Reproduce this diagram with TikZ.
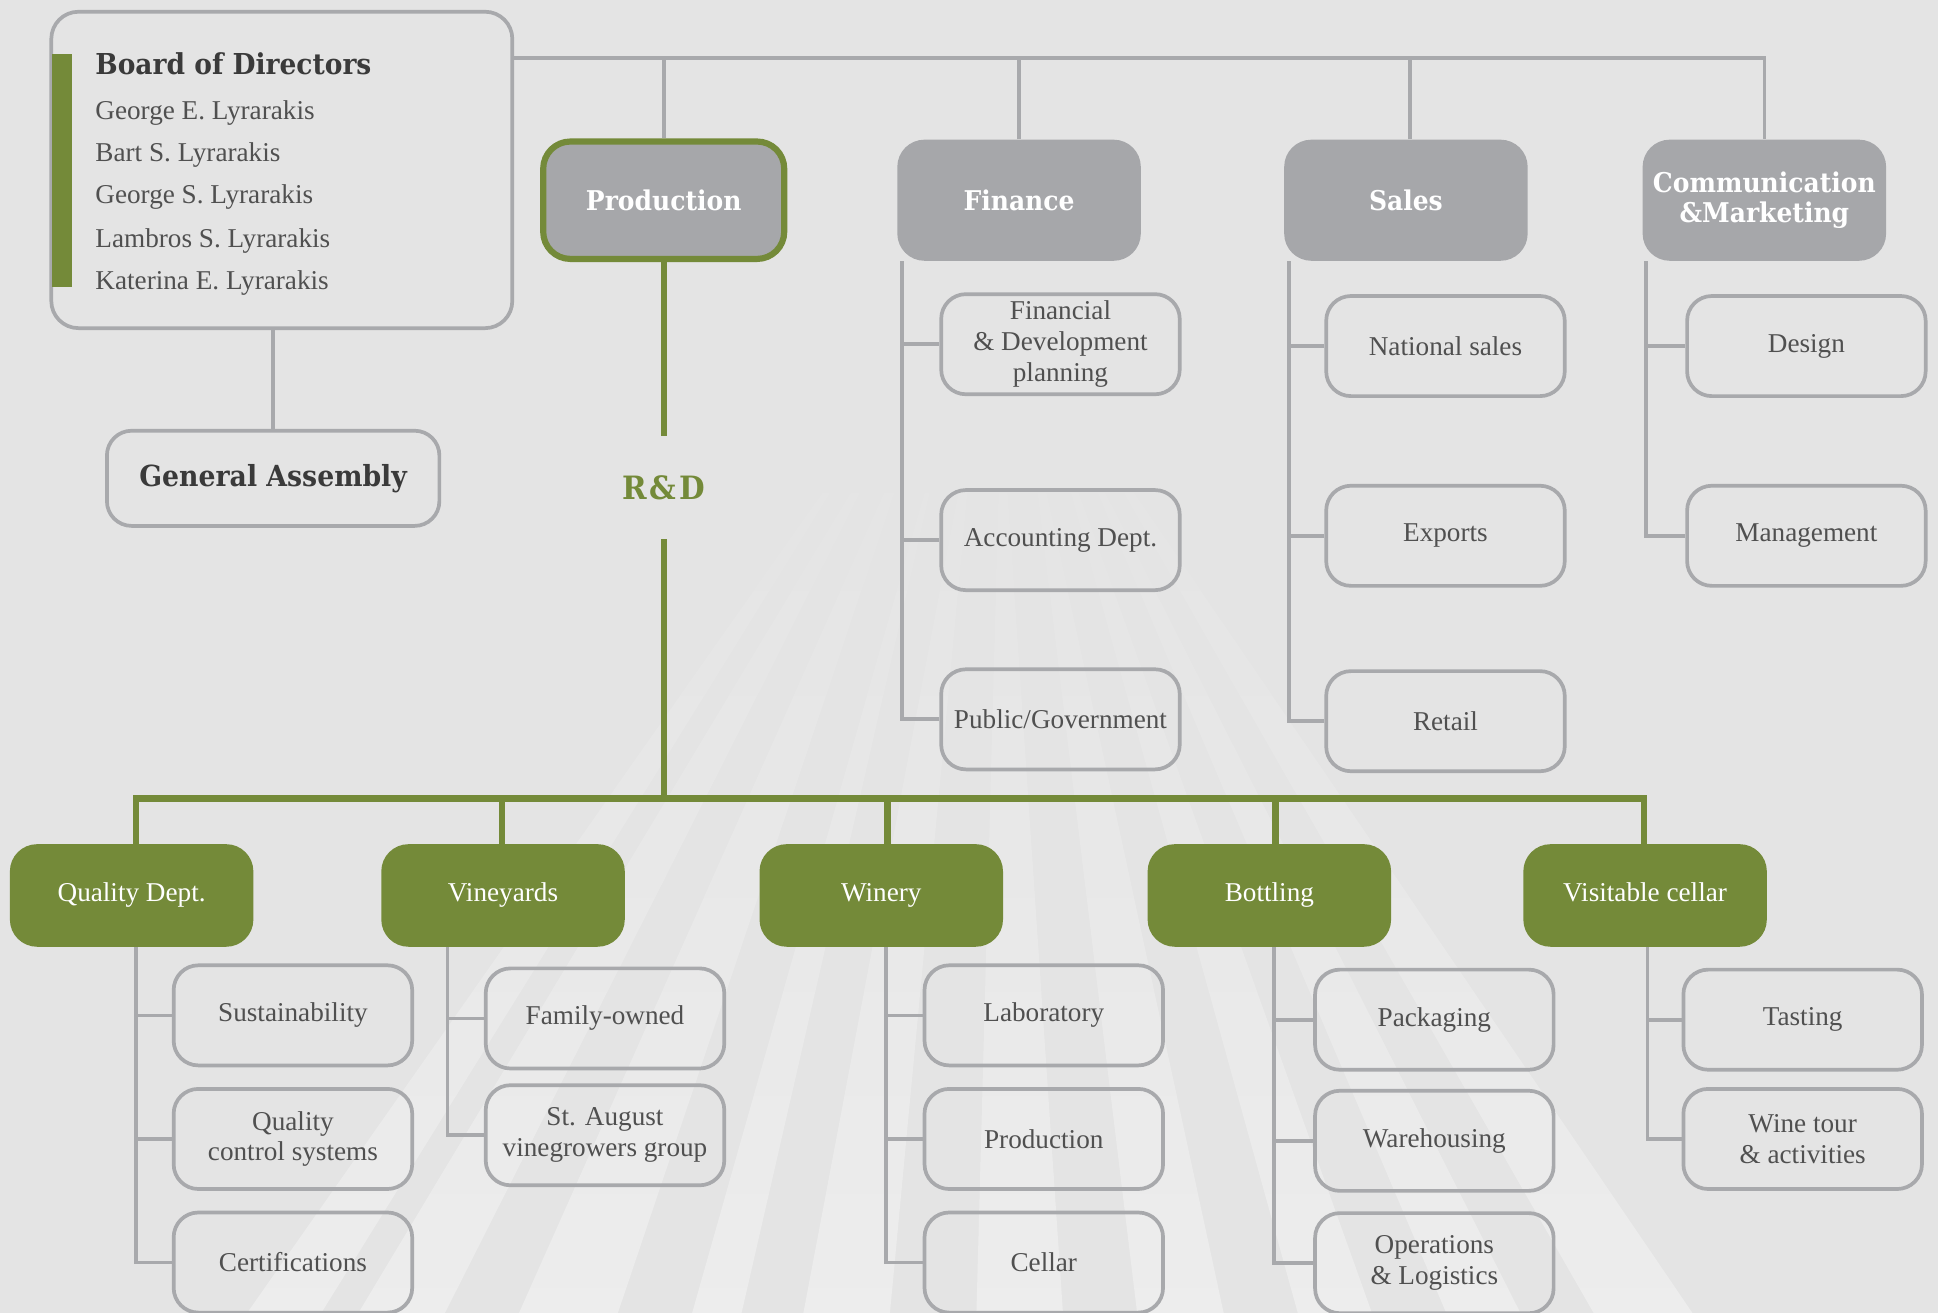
\documentclass[tikz,border=0pt]{standalone}
\usepackage{fontspec}
\setmainfont{Liberation Serif}
\newfontfamily\hf[FakeStretch=0.92]{DejaVu Serif}
\usetikzlibrary{calc,fadings}
\definecolor{bg}{HTML}{E4E4E4}
\definecolor{lgray}{HTML}{A8A9AC}
\definecolor{hgray}{HTML}{A6A7AA}
\definecolor{olive}{HTML}{748A39}
\definecolor{dtext}{HTML}{3A3A3A}
\definecolor{btext}{HTML}{505050}
\begin{document}
\begin{tikzpicture}[x=1pt,y=-1pt,
  gline/.style={draw=lgray,line width=3pt},
  grline/.style={draw=olive,line width=5pt},
  ray/.style={fill=white,opacity=0.34,path fading=north},
  cbox/.style={draw=lgray,line width=3pt,rounded corners=20pt,minimum width=193pt,minimum height=81pt,inner sep=0pt,align=center,text=btext,font=\fontsize{22}{25}\selectfont},
  hbox/.style={fill=hgray,rounded corners=22pt,minimum width=197pt,minimum height=98pt,inner sep=0pt,align=center,text=white,font=\hf\bfseries\fontsize{22}{25}\selectfont},
  gbox/.style={fill=olive,rounded corners=22pt,minimum width=197pt,minimum height=83pt,inner sep=0pt,text height=15pt,text depth=5pt,text=white,font=\fontsize{22}{25}\selectfont},
  person/.style={anchor=base west,inner sep=0pt,text=btext,font=\fontsize{22}{25}\selectfont}
]
\fill[bg] (0,0) rectangle (1568,1062);
\useasboundingbox (0,0) rectangle (1568,1062);
\clip (0,0) rectangle (1568,1062);
% light rays
\foreach \p/\a/\b in {720/200/260,735/290/360,750/420/500,770/560/600,790/650/720,810/790/860,830/920/990,845/1050/1110,855/1170/1230,865/1290/1370}
  \fill[ray] (\p,320) -- (\a,1062) -- (\b,1062) -- cycle;

% board
\node[draw=lgray,line width=3pt,rounded corners=22pt,minimum width=373pt,minimum height=256pt,inner sep=0pt] (board) at (228,137.5) {};
\fill[olive] (42,44) rectangle (58,232);
\node[anchor=base west,inner sep=0pt,text=dtext,font=\hf\bfseries\fontsize{23.3}{24}\selectfont] (bt) at (77,60) {Board of Directors};
\node[person] (n1) at (77,97) {George E. Lyrarakis};
\node[person] (n2) at (77,131) {Bart S. Lyrarakis};
\node[person] (n3) at (77,165) {George S. Lyrarakis};
\node[person] (n4) at (77,200) {Lambros S. Lyrarakis};
\node[person] (n5) at (77,234) {Katerina E. Lyrarakis};

\node[draw=lgray,line width=3pt,rounded corners=20pt,minimum width=269pt,minimum height=77pt,inner sep=0pt,text=dtext,font=\hf\bfseries\fontsize{23.5}{24}\selectfont] (ga) at (221,387) {General Assembly};

% top level
\node[hbox,draw=olive,line width=5pt,minimum width=195pt,minimum height=95pt] (prod) at (537,162) {Production};
\node[hbox] (fin) at (824.5,162) {Finance};
\node[hbox] (sal) at (1137.5,162) {Sales};
\node[hbox] (com) at (1427.5,162) {Communication\\[-1pt]\&Marketing};

% finance children
\node[cbox] (fdp) at (858,278.5) {Financial\\\& Development\\planning};
\node[cbox] (acc) at (858,437) {Accounting Dept.};
\node[cbox] (pub) at (858,582) {Public/Government};
% sales children
\node[cbox] (nat) at (1169.5,280) {National sales};
\node[cbox] (exp) at (1169.5,433.5) {Exports};
\node[cbox] (ret) at (1169.5,583.5) {Retail};
% communication children
\node[cbox] (des) at (1461.5,280) {Design};
\node[cbox] (man) at (1461.5,433.5) {Management};

% R&D
\node[inner sep=0pt,minimum height=83pt,text=olive,font=\hf\bfseries\fontsize{26}{26}\selectfont] (rd) at (537,394.5) {R\kern2pt\&\kern2pt D};
\coordinate (gb) at (537,646);

% production units
\node[gbox] (qd) at (106.5,724.5) {Quality Dept.};
\node[gbox] (vin) at (407,724.5) {Vineyards};
\node[gbox] (win) at (713,724.5) {Winery};
\node[gbox] (bot) at (1027,724.5) {Bottling};
\node[gbox] (vc) at (1331,724.5) {Visitable cellar};

\node[cbox] (sus) at (237,821.5) {Sustainability};
\node[cbox] (qcs) at (237,921.5) {Quality\\control systems};
\node[cbox] (cer) at (237,1021.5) {Certifications};
\node[cbox] (fam) at (489.5,824) {Family-owned};
\node[cbox] (sta) at (489.5,918.5) {St. August\\vinegrowers group};
\node[cbox] (lab) at (844.5,821.5) {Laboratory};
\node[cbox] (wpr) at (844.5,921.5) {Production};
\node[cbox] (cel) at (844.5,1021.5) {Cellar};
\node[cbox] (pac) at (1160.5,825) {Packaging};
\node[cbox] (war) at (1160.5,923) {Warehousing};
\node[cbox] (ope) at (1160.5,1022) {Operations\\\& Logistics};
\node[cbox] (tas) at (1458.5,825) {Tasting};
\node[cbox] (wto) at (1458.5,921.5) {Wine tour\\\& activities};

% gray connectors, top
\coordinate (tb) at (1427.5,47);
\draw[gline] (board.east |- tb) -- (tb) -- (com.north);
\draw[gline] (prod.north) -- (prod.north |- tb);
\draw[gline] (fin.north) -- (fin.north |- tb);
\draw[gline] ([xshift=3.5pt]sal.north) -- ([xshift=3.5pt]sal.north |- tb);
\draw[gline] (ga.north) -- (ga.north |- board.south);

\foreach \c in {fdp,acc,pub} \draw[gline] (\c.west) -| ([xshift=-94.5pt]fin.south);
\foreach \c in {nat,exp,ret} \draw[gline] (\c.west) -| ([xshift=-94.5pt]sal.south);
\foreach \c in {des,man} \draw[gline] (\c.west) -| ([xshift=-95.5pt]com.south);

\foreach \c in {sus,qcs,cer} \draw[gline] (\c.west) -| ([xshift=3.5pt]qd.south);
\foreach \c in {fam,sta} \draw[gline] (\c.west) -| ([xshift=-45pt]vin.south);
\foreach \c in {lab,wpr,cel} \draw[gline] (\c.west) -| ([xshift=4pt]win.south);
\foreach \c in {pac,war,ope} \draw[gline] (\c.west) -| ([xshift=4pt]bot.south);
\foreach \c in {tas,wto} \draw[gline] (\c.west) -| ([xshift=2pt]vc.south);

% green connectors
\draw[grline] (prod.south) -- (rd.north);
\draw[grline] (rd.south) -- (gb);
\draw[grline] ([xshift=3.5pt]qd.north) |- (gb) -| ([xshift=-1pt]vc.north);
\draw[grline] ([xshift=-1pt]vin.north) -- ([xshift=-1pt]vin.north |- gb);
\draw[grline] ([xshift=5pt]win.north) -- ([xshift=5pt]win.north |- gb);
\draw[grline] ([xshift=5pt]bot.north) -- ([xshift=5pt]bot.north |- gb);
\end{tikzpicture}
\end{document}
